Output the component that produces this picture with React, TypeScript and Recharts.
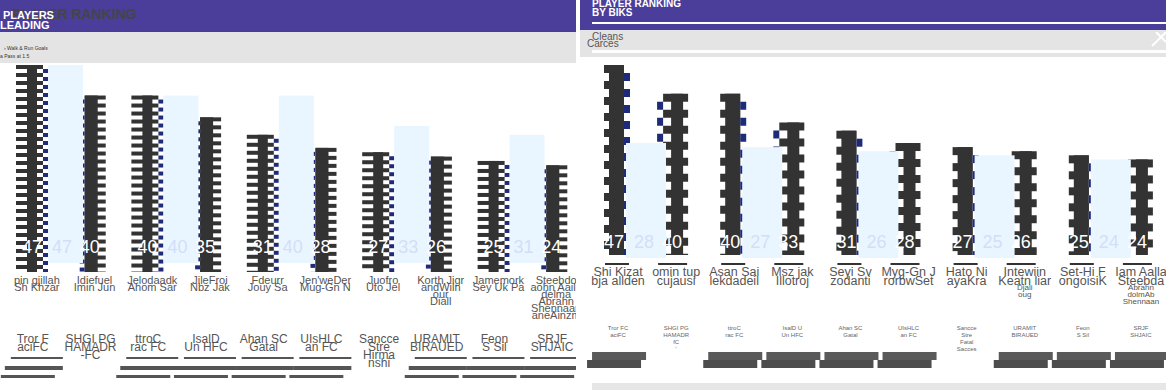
import React from 'react';
import { BarChart, Bar, XAxis, YAxis, LabelList } from 'recharts';

const FONT = '"Liberation Sans", Arial, sans-serif';
const PURPLE = '#4a3e9a';
const DARK = '#333333';
const NAVY = '#1f2a78';
const LIGHT = '#e9f6ff';

// left panel: goals
const leftPlayers = [
  ['pin gjillah', 'Sh Khzar'],
  ['Idiefuel', 'Imin Jun'],
  ['Jelodaadk', 'Ahom Sar'],
  ['JileFroi', 'Nbz Jak'],
  ['Fdeurr', 'Jouy Sa'],
  ["Jen'weDer", 'Mug-Gn N'],
  ['Juofro', 'Uto Jel'],
  ['Korth Jigr', 'andWiln', 'our', 'Diall'],
  ['Jamemork', 'Sey Uk Pa'],
  ['Steebdo', 'aohn Aaile', 'delma', 'Abrahn', 'Shennaan', 'aneAinzm'],
];
const leftTeams = [
  ['Tror F', 'aciFC'],
  ['SHGI PG', 'HAMADR', '-FC'],
  ['ttroC', 'rac FC'],
  ['IsalD', 'Un HFC'],
  ['Ahan SC', 'Gatal'],
  ['UIsHLC', 'an FC'],
  ['Sancce', 'Stre', 'Hirma', 'nshi'],
  ['URAMIT', 'BIRAUED'],
  ['Feon', 'S Sil'],
  ['SRJF', 'SHJAIC'],
];
const leftGoals = [47, 40, 40, 35, 31, 28, 27, 26, 25, 24];
const leftPrev = [47, null, 40, null, 40, null, 33, null, 31, null];

// right panel
const rightPlayers = [
  ['Shi Kizat', 'bja allden'],
  ['omin tup', 'cujausi'],
  ['Asan Sai', 'lekdadeil'],
  ['Msz jak', 'Illotroj'],
  ['Seyi Sv', 'zodanti'],
  ['Myg-Gn J', 'rorbwSet'],
  ['Hato Ni', 'ayaKra'],
  ['Intewiin', 'Keatn liar', 'Djali', 'oug'],
  ['Set-Hi F', 'ongoisiK'],
  ['Iam Aalla', 'Steebda', 'Abrahn', 'dolmAb', 'Shennaan'],
];
const rightTeams = [
  ['Tror FC', 'aciFC'],
  ['SHGI PG', 'HAMADR', 'fC', "'"],
  ['ttroC', 'rac FC'],
  ['IsalD U', 'Un HFC'],
  ['Ahan SC', 'Gatal'],
  ['UIsHLC', 'an FC'],
  ['Sancce', 'Stre', 'Fatal', 'Sacces'],
  ['URAMIT', 'BIRAUED'],
  ['Feon', 'S Sil'],
  ['SRJF', 'SHJAIC'],
];
const rightSaves = [47, 40, 40, 33, 31, 28, 27, 26, 25, 24];
const rightPrev = [28, null, 27, null, 26, null, 25, null, 24, null];

type Comb = {
  period: number;
  tooth: number;
  navy: number;
  evenLead: number;
  oddLead: number;
  evenCore: [number, number];
  oddCore: [number, number];
  bottomAdj: number;
  underline: boolean;
};

const leftComb: Comb = {
  period: 8, tooth: 4, navy: 5, evenLead: 6, oddLead: 0,
  evenCore: [11, 10], oddCore: [5, 13], bottomAdj: 2, underline: false,
};
const rightComb: Comb = {
  period: 16, tooth: 8, navy: 6, evenLead: 0, oddLead: 5,
  evenCore: [5, 15], oddCore: [14, 12], bottomAdj: -3, underline: true,
};

const combBar = (c: Comb) => (p: any) => {
  const { x, y, width, height, index } = p;
  if (!height || height <= 0) return <g />;
  const odd = index % 2 === 1;
  const lead = odd ? c.oddLead : c.evenLead;
  const fx = x - lead;
  const fw = width + lead;
  const bottom = y + height + c.bottomAdj;
  const core = odd ? c.oddCore : c.evenCore;
  const parts: React.ReactNode[] = [
    <rect key="core" x={fx + core[0]} y={y} width={core[1]} height={bottom - y} fill={DARK} />,
  ];
  let k = 0;
  for (let ry = y; ry < bottom; ry += c.period, k++) {
    const th = Math.min(c.tooth, bottom - ry);
    parts.push(
      <rect key={'t' + k} x={odd ? fx + c.navy : fx} y={ry} width={fw - c.navy} height={th} fill={DARK} />
    );
    const gy = ry + c.tooth;
    const gh = Math.min(c.period - c.tooth, bottom - gy);
    if (gh > 0) {
      parts.push(
        <rect key={'n' + k} x={odd ? fx : fx + fw - c.navy} y={gy} width={c.navy} height={gh} fill={NAVY} />
      );
    }
  }
  if (c.underline) {
    parts.push(<rect key="u" x={fx + 1} y={y + height + 5} width={fw - 2} height={2} fill={DARK} />);
  }
  return <g>{parts}</g>;
};

const lightBar = (extL: number, extR: number, trim: number) => (p: any) => {
  const { x, y, width, height } = p;
  if (!height || height <= 0) return <g />;
  return <rect x={x - extL} y={y} width={width + extL + extR} height={height - trim} fill={LIGHT} />;
};

const valueLabel = (dx: number, up: number, color: string) => (p: any) => {
  if (p.value == null) return null;
  const vb = p.viewBox || p;
  const x = vb.x ?? p.x;
  const y = vb.y ?? p.y;
  const h = vb.height ?? p.height;
  return (
    <text x={x + dx} y={y + h - up} textAnchor="middle" fontSize={18} fontFamily={FONT} fill={color}>
      {p.value}
    </text>
  );
};

const LeftTick = (props: any) => {
  const { x, y, payload } = props;
  const i = props.index ?? payload.index;
  const names = leftPlayers[i] || [];
  const team = leftTeams[i] || [];
  const nx = x - 14;
  const tx = x - 18;
  return (
    <g fontFamily={FONT}>
      <text textAnchor="middle" fontSize={11} fill="#555">
        {names.map((s, k) => (
          <tspan key={k} x={nx} y={y + 14 + k * 7}>{s}</tspan>
        ))}
      </text>
      <text textAnchor="middle" fontSize={12} fill="#555">
        {team.map((s, k) => (
          <tspan key={k} x={tx} y={y + 73 + k * 8}>{s}</tspan>
        ))}
      </text>
      {team.length <= 2 && (
        <g fill="#555">
          <rect x={tx - 22} y={y + 87} width={52} height={2} />
          <rect x={tx - 28} y={y + 96} width={58} height={4} />
          <rect x={tx - 32} y={y + 105} width={54} height={3} />
        </g>
      )}
    </g>
  );
};

const RightTick = (props: any) => {
  const { x, y, payload } = props;
  const i = props.index ?? payload.index;
  const names = rightPlayers[i] || [];
  const team = rightTeams[i] || [];
  const nx = x - 14;
  const bx = x - 16;
  return (
    <g fontFamily={FONT}>
      <text textAnchor="middle" fill="#555">
        {names.map((s, k) => (
          <tspan key={k} x={nx} y={k < 2 ? y + 18 + k * 9 : y + 32 + (k - 2) * 7} fontSize={k < 2 ? 12.5 : 8}>
            {s}
          </tspan>
        ))}
      </text>
      <text textAnchor="middle" fontSize={6} fill="#666">
        {team.map((s, k) => (
          <tspan key={k} x={nx} y={y + 72 + k * 7}>{s}</tspan>
        ))}
      </text>
      {team.length <= 2 && (
        <g>
          <rect x={bx - 24} y={y + 94} width={54} height={8} fill="#5a5a5a" />
          <rect x={bx - 29} y={y + 102} width={54} height={8} fill="#4d4d4d" />
        </g>
      )}
    </g>
  );
};

type PanelProps = {
  data: { name: string; cur: number; prev: number | null }[];
  width: number;
  left: number;
  axisH: number;
  comb: Comb;
  light: [number, number, number];
  labelUp: number;
  Tick: any;
};

function RankChart({ data, width, left, axisH, comb, light, labelUp, Tick }: PanelProps) {
  return (
    <BarChart
      width={width}
      height={390}
      data={data}
      margin={{ top: 65, right: 2, bottom: 0, left }}
      barCategoryGap={0}
      barGap={0}
    >
      <XAxis
        dataKey="name"
        interval={0}
        tickLine={false}
        axisLine={false}
        tickSize={0}
        tickMargin={0}
        height={axisH}
        tick={(p: any) => <Tick {...p} />}
      />
      <YAxis hide domain={[0, 47]} />
      <Bar dataKey="cur" barSize={26} shape={combBar(comb)} isAnimationActive={false}>
        <LabelList dataKey="cur" content={valueLabel(10, labelUp, '#ffffff')} />
      </Bar>
      <Bar dataKey="prev" barSize={31} shape={lightBar(light[0], light[1], light[2])} isAnimationActive={false}>
        <LabelList dataKey="prev" content={valueLabel(14, labelUp, '#d3def8')} />
      </Bar>
    </BarChart>
  );
}

const leftData = leftPlayers.map((p, i) => ({ name: p[0], cur: leftGoals[i], prev: leftPrev[i] }));
const rightData = rightPlayers.map((p, i) => ({ name: p[0], cur: rightSaves[i], prev: rightPrev[i] }));

const abs = (s: React.CSSProperties): React.CSSProperties => ({ position: 'absolute', ...s });

export default function App() {
  return (
    <div style={{ position: 'relative', width: 1166, height: 390, overflow: 'hidden', background: '#fff', fontFamily: FONT }}>
      <style>{'body{margin:0}'}</style>

      {/* left panel */}
      <div style={abs({ left: 0, top: 0, width: 576, height: 390, overflow: 'hidden' })}>
        <RankChart data={leftData} width={601} left={22} axisH={120} comb={leftComb} light={[0, 4, 7]} labelUp={17} Tick={LeftTick} />
      </div>
      <div style={abs({ left: 0, top: 0, width: 576, height: 31, background: PURPLE, overflow: 'hidden', borderBottom: '1px solid #4a4a4a' })}>
        <div style={abs({ left: 12, top: 6, fontSize: 14, fontWeight: 700, color: '#454545', whiteSpace: 'nowrap' })}>PLAYER RANKING</div>
        <div style={abs({ left: 3, top: 9, fontSize: 11, fontWeight: 700, color: '#fff', whiteSpace: 'nowrap' })}>PLAYERS</div>
        <div style={abs({ left: 0, top: 19, fontSize: 11, fontWeight: 700, color: '#fff', whiteSpace: 'nowrap' })}>LEADING</div>
      </div>
      <div style={abs({ left: 0, top: 32, width: 576, height: 31, background: '#e4e4e4' })}>
        <div style={abs({ left: 4, top: 13, fontSize: 5, color: '#333', whiteSpace: 'nowrap' })}>› Walk &amp; Run Goals</div>
        <div style={abs({ left: 0, top: 21, fontSize: 5, color: '#333', whiteSpace: 'nowrap' })}>a Pass at 1.5</div>
      </div>

      {/* right panel */}
      <div style={abs({ left: 580, top: 0, width: 586, height: 390, overflow: 'hidden' })}>
        <RankChart data={rightData} width={606} left={23} axisH={132} comb={rightComb} light={[4, 5, 0]} labelUp={10} Tick={RightTick} />
      </div>
      <div style={abs({ left: 580, top: 0, width: 586, height: 30, background: PURPLE, overflow: 'hidden' })}>
        <div style={abs({ left: 12, top: -2, fontSize: 10, fontWeight: 700, color: '#fff', whiteSpace: 'nowrap' })}>PLAYER RANKING</div>
        <div style={abs({ left: 12, top: 7, fontSize: 10, fontWeight: 700, color: '#fff', whiteSpace: 'nowrap' })}>BY BIKS</div>
        <div style={abs({ left: 12, top: 22, width: 574, height: 2, background: '#fff' })} />
      </div>
      <div style={abs({ left: 580, top: 30, width: 586, height: 27, background: '#e4e4e4', overflow: 'hidden' })}>
        <div style={abs({ left: 12, top: 1, fontSize: 10, color: '#555', whiteSpace: 'nowrap' })}>Cleans</div>
        <div style={abs({ left: 7, top: 8, fontSize: 10, color: '#555', whiteSpace: 'nowrap' })}>Carces</div>
        <div style={abs({ left: 12, top: 20, width: 574, height: 3, background: '#fff' })} />
        <svg style={abs({ left: 570, top: 2, width: 16, height: 15 })}>
          <line x1={2} y1={14} x2={16} y2={0} stroke="#fff" strokeWidth={2} />
          <line x1={6} y1={0} x2={16} y2={10} stroke="#fff" strokeWidth={2} />
        </svg>
      </div>
      <div style={abs({ left: 592, top: 383, width: 574, height: 7, background: '#e6e6e6' })} />
    </div>
  );
}
